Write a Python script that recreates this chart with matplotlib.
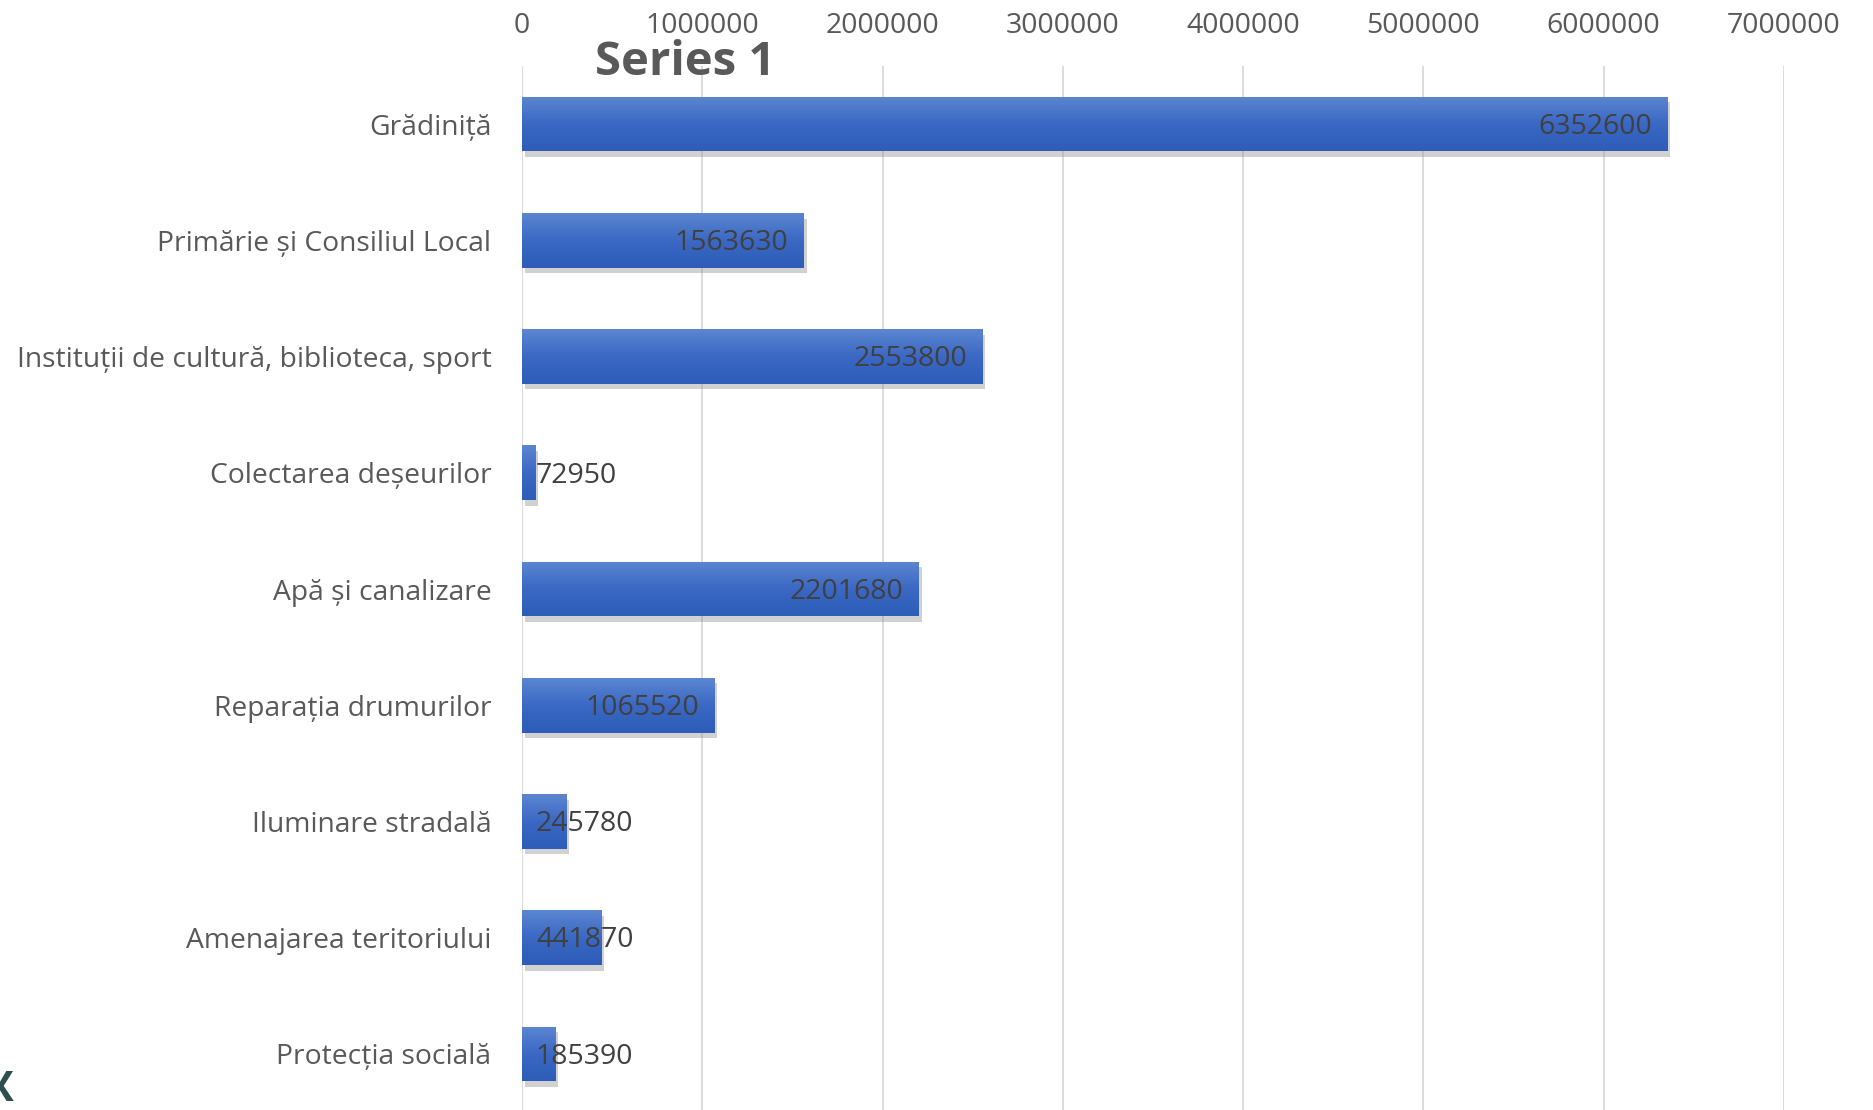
import numpy as np
import matplotlib.pyplot as plt
import matplotlib.patheffects as pe
from matplotlib.colors import LinearSegmentedColormap

categorii = ['Grădiniță', 'Primărie și Consiliul Local',
             'Instituții de cultură, biblioteca, sport', 'Colectarea deșeurilor',
             'Apă și canalizare', 'Reparația drumurilor', 'Iluminare stradală',
             'Amenajarea teritoriului', 'Protecția socială']
valori = [6352600, 1563630, 2553800, 72950, 2201680, 1065520, 245780, 441870, 185390]
ticks_x = [0, 1000000, 2000000, 3000000, 4000000, 5000000, 6000000, 7000000]
titlu = 'Series 1'

plt.rcParams['font.family'] = ['Open Sans', 'DejaVu Sans']

fig = plt.figure(figsize=(18.73, 11.10), dpi=100)
ax = fig.add_axes([0.2787, -0.0018, 0.6738, 0.9423])

y = np.arange(len(categorii))
bare = ax.barh(y, valori, height=0.47, color='#4472c4', zorder=2)

# umbra + gradient pe fiecare bara
cmap = LinearSegmentedColormap.from_list('grad', ['#5c86d1', '#3a68c4', '#2d5db8'])
grad = np.linspace(0, 1, 100).reshape(-1, 1)
for b in bare:
    b.set_path_effects([pe.SimplePatchShadow(offset=(2, -4), shadow_rgbFace='#8c8c8c', alpha=0.4),
                        pe.Normal()])
    x0, y0, w, h = b.get_x(), b.get_y(), b.get_width(), b.get_height()
    im = ax.imshow(grad, cmap=cmap, extent=(x0, x0 + w, y0 + h, y0), origin='upper',
                   aspect='auto', zorder=3)
    im.set_clip_path(b)

# etichete valori
for yi, v in zip(y, valori):
    if v > 700000:
        ax.annotate(str(v), (v, yi), xytext=(-11, -2), textcoords='offset points',
                    ha='right', va='center', fontsize=20.5, color='#404040', zorder=5)
    else:
        ax.annotate(str(v), (0, yi), xytext=(10, -2), textcoords='offset points',
                    ha='left', va='center', fontsize=20.5, color='#404040', zorder=5)

ax.set_xlim(0, 7000000)
ax.set_ylim(len(categorii) - 0.5, -0.5)
ax.set_xticks(ticks_x)
ax.set_xticklabels([str(t) for t in ticks_x])
ax.set_yticks(y)
ax.set_yticklabels(categorii)
ax.xaxis.tick_top()
ax.tick_params(axis='x', length=0, pad=19, labelsize=20.5, labelcolor='#595959')
ax.tick_params(axis='y', length=0, pad=22, labelsize=20.3, labelcolor='#595959')
ax.grid(axis='x', color='#d9d9d9', lw=1.3)
ax.set_axisbelow(True)
for s in ax.spines.values():
    s.set_visible(False)

fig.text(0.3657, 0.9324, titlu, fontsize=34, fontweight='bold', color='#595959',
         ha='center', va='baseline')

# fragment de text taiat in coltul stanga jos
fig.text(0.0, 0.018, 'X', fontsize=30, fontweight='bold', color='#2f4f4f',
         ha='center', va='center')

fig.savefig('out.png', dpi=100)
